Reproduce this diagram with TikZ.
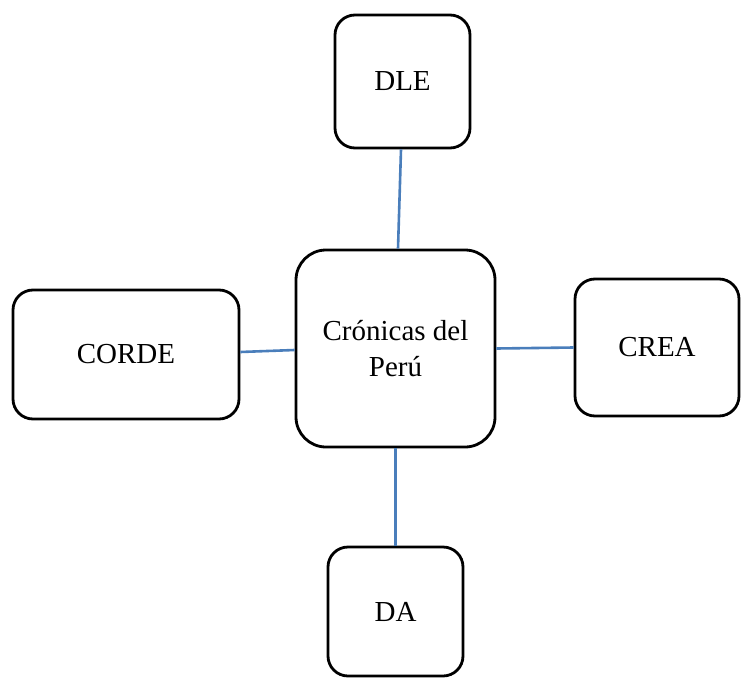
\documentclass[tikz,border=0pt]{standalone}
\usepackage{fontspec}
\setmainfont{Liberation Serif}
\usetikzlibrary{calc}
\definecolor{linkblue}{HTML}{4A7EBB}
\tikzset{
  box/.style={draw=black, line width=2.8pt, rounded corners=20pt, fill=white,
    font=\fontsize{29}{36}\selectfont, align=center, inner sep=0pt},
  link/.style={draw=linkblue, line width=2.6pt}
}
\begin{document}
\begin{tikzpicture}[x=1pt,y=-1pt]
\useasboundingbox (0,0) rectangle (741,677);
\node[box, minimum width=135pt, minimum height=133pt] (dle) at (402.5,81.5) {DLE};
\node[box, minimum width=199pt, minimum height=197pt, rounded corners=30pt] (c) at (395.5,348.5) {Crónicas del\\Perú};
\node[box, minimum width=226pt, minimum height=129pt] (corde) at (126,354.5) {CORDE};
\node[box, minimum width=164pt, minimum height=137pt] (crea) at (657,347.5) {CREA};
\node[box, minimum width=135pt, minimum height=129pt] (da) at (395.5,611.5) {DA};
\draw[link] ($(dle.south)+(-1.5,0)$) -- ($(c.north)+(2.5,0)$);
\draw[link] ($(corde.east)+(0,-2.5)$) -- ($(c.west)+(0,1.5)$);
\draw[link] (c.east) -- (crea.west);
\draw[link] (c.south) -- (da.north);
\end{tikzpicture}
\end{document}
